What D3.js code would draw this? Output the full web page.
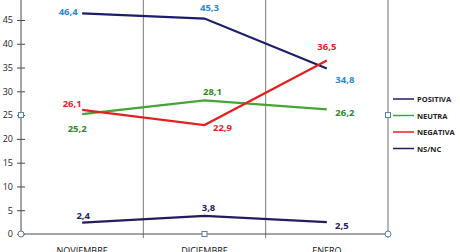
<!DOCTYPE html>
<html>
<head>
<meta charset="utf-8">
<script src="https://cdn.jsdelivr.net/npm/d3@7"></script>
<style>
  body { margin: 0; background: #fff; }
  svg { display: block; font-family: "Open Sans", "Liberation Sans", sans-serif; }
</style>
</head>
<body>
<svg id="chart"></svg>
<script>
// Data
const months = ["NOVIEMBRE", "DICIEMBRE", "ENERO"];
const positiva = [46.4, 45.3, 34.8];
const neutra = [25.2, 28.1, 26.2];
const negativa = [26.1, 22.9, 36.5];
const nsnc = [2.4, 3.8, 2.5];
const yTicks = [0, 5, 10, 15, 20, 25, 30, 35, 40, 45];

const series = [
  { name: "POSITIVA", values: positiva, color: "#1b1e6c", label: "#2b87d3" },
  { name: "NEUTRA", values: neutra, color: "#46a435", label: "#2f8a25" },
  { name: "NEGATIVA", values: negativa, color: "#e4201f", label: "#e2222c" },
  { name: "NS/NC", values: nsnc, color: "#231d5b", label: "#2a2160" },
];

// label placement [dx, dy] per series and point
const labelPos = {
  "POSITIVA": [[-14, -1], [5, -11], [18, 12]],
  "NEUTRA": [[-5, 15], [8, -8], [18, 4]],
  "NEGATIVA": [[-10, -6], [18, 3], [0, -13]],
  "NS/NC": [[1, -7], [4, -8], [15, 4]],
};

// Chart Dimensions
const width = 460;
const height = 252;
const left = 21;
const right = 388;
const bottom = 234;

const svg = d3.select("#chart").attr("width", width).attr("height", height);

const x = d3.scaleBand().domain(months).range([left, right]);
const y = d3.scaleLinear().domain([0, 50]).range([bottom, bottom - 50 * 4.756]);

// Vertical grid lines at band boundaries
const bounds = months.map((m) => x(m) + x.bandwidth());
svg
  .selectAll(".grid")
  .data(bounds)
  .enter()
  .append("line")
  .attr("x1", (d) => d)
  .attr("x2", (d) => d)
  .attr("y1", 0)
  .attr("y2", bottom + 4)
  .attr("stroke", (d, i) => (i === 2 ? "#6e6e6e" : "#7a7a7a"))
  .attr("stroke-width", 1);

// Y axis
const yAxis = svg
  .append("g")
  .attr("transform", `translate(${left},0)`)
  .call(d3.axisLeft(y).tickValues(yTicks).tickSize(0).tickPadding(8));
yAxis.select(".domain").remove();
yAxis
  .append("line")
  .attr("y1", 0)
  .attr("y2", bottom)
  .attr("stroke", "#4a4a4a");
yAxis
  .selectAll(".tick")
  .append("line")
  .attr("x1", -4)
  .attr("x2", 4)
  .attr("stroke", "#4a4a4a");
yAxis
  .selectAll("text")
  .attr("fill", "#222")
  .attr("font-size", 9)
  .attr("font-family", "Open Sans, sans-serif");

// X axis
svg
  .append("line")
  .attr("x1", left)
  .attr("x2", right)
  .attr("y1", bottom)
  .attr("y2", bottom)
  .attr("stroke", "#4a4a4a");

svg
  .selectAll(".xlabel")
  .data(months)
  .enter()
  .append("text")
  .attr("x", (d) => x(d) + x.bandwidth() / 2)
  .attr("y", bottom + 19.5)
  .attr("text-anchor", "middle")
  .attr("font-size", 9)
  .attr("fill", "#111")
  .text((d) => d);

// Lines
const line = d3
  .line()
  .x((d, i) => x(months[i]) + x.bandwidth() / 2)
  .y((d) => y(d));

svg
  .selectAll(".series")
  .data(series)
  .enter()
  .append("path")
  .attr("d", (d) => line(d.values))
  .attr("fill", "none")
  .attr("stroke", (d) => d.color)
  .attr("stroke-width", 2.2);

// Data labels
series.forEach((s) => {
  svg
    .selectAll(null)
    .data(s.values)
    .enter()
    .append("text")
    .attr("x", (d, i) => x(months[i]) + x.bandwidth() / 2 + labelPos[s.name][i][0])
    .attr("y", (d, i) => y(d) + labelPos[s.name][i][1] + 3)
    .attr("text-anchor", "middle")
    .attr("font-size", 9.5)
    .attr("font-weight", "bold")
    .attr("fill", s.label)
    .text((d) => String(d).replace(".", ","));
});

// Legend
const legend = svg
  .selectAll(".legend")
  .data(series)
  .enter()
  .append("g")
  .attr("transform", (d, i) => `translate(393,${99 + i * 16.5})`);
legend
  .append("line")
  .attr("x1", 0)
  .attr("x2", 21)
  .attr("stroke", (d) => d.color)
  .attr("stroke-width", 1.5);
legend
  .append("text")
  .attr("x", 24)
  .attr("y", 3)
  .attr("font-size", 7.5)
  .attr("font-weight", "bold")
  .attr("fill", "#222")
  .text((d) => d.name);

// Selection handles
const squares = [
  [left, y(25)],
  [x(months[1]) + x.bandwidth() / 2, bottom],
  [right, y(25)],
];
svg
  .selectAll(".sq")
  .data(squares)
  .enter()
  .append("rect")
  .attr("x", (d) => d[0] - 2.5)
  .attr("y", (d) => d[1] - 2.5)
  .attr("width", 5)
  .attr("height", 5)
  .attr("fill", "#fff")
  .attr("stroke", "#5b7f9c");
svg
  .selectAll(".ci")
  .data([[left, bottom], [right, bottom]])
  .enter()
  .append("circle")
  .attr("cx", (d) => d[0])
  .attr("cy", (d) => d[1])
  .attr("r", 3)
  .attr("fill", "#fff")
  .attr("stroke", "#5b7f9c");
</script>
</body>
</html>
